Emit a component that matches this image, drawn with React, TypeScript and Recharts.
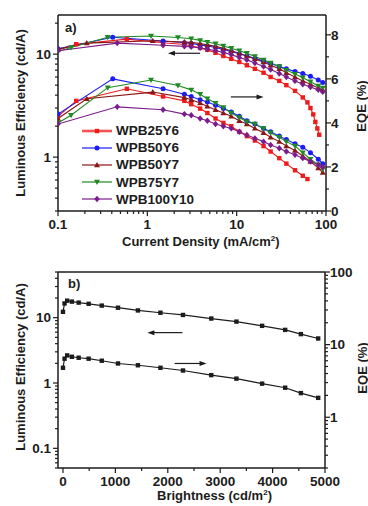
import React from 'react';
import { LineChart, Line, XAxis, YAxis, ReferenceLine } from 'recharts';

type Row = { j: number; le?: number; eqe?: number };

// panel a: current density (mA/cm2), luminous efficiency (cd/A), EQE (%)
const wpb25y6: Row[] = [
  { j: 0.1, le: 11.0, eqe: 4.3 }, { j: 0.16, le: 12.5, eqe: 5.0 }, { j: 0.59, le: 14.0, eqe: 5.55 },
  { j: 1.5, le: 12.9, eqe: 5.2 }, { j: 2.6, le: 12.4, eqe: 5.0 }, { j: 3.1, le: 12.0, eqe: 4.85 },
  { j: 3.9, le: 11.5, eqe: 4.65 }, { j: 4.7, le: 11.0, eqe: 4.45 }, { j: 5.8, le: 10.3, eqe: 4.2 },
  { j: 7.1, le: 9.6, eqe: 4.0 }, { j: 8.7, le: 9.0, eqe: 3.85 }, { j: 10.7, le: 8.4, eqe: 3.6 },
  { j: 13, le: 7.8, eqe: 3.4 }, { j: 16, le: 7.2, eqe: 3.2 }, { j: 20, le: 6.6, eqe: 2.95 },
  { j: 24, le: 6.0, eqe: 2.7 }, { j: 30, le: 5.5, eqe: 2.4 }, { j: 36, le: 5.0, eqe: 2.15 },
  { j: 45, le: 4.4, eqe: 1.85 }, { j: 55, le: 3.8, eqe: 1.6 }, { j: 62, le: 3.4, eqe: 1.45 },
  { j: 67, le: 3.0 }, { j: 72, le: 2.6 }, { j: 76, le: 2.2 }, { j: 80, le: 1.9 }, { j: 84, le: 1.65 },
];
const wpb50y6: Row[] = [
  { j: 0.1, le: 11.3, eqe: 4.4 }, { j: 0.41, le: 14.6, eqe: 6.0 }, { j: 1.5, le: 13.4, eqe: 5.55 },
  { j: 2.6, le: 12.9, eqe: 5.3 }, { j: 3.1, le: 12.7, eqe: 5.2 }, { j: 3.9, le: 12.3, eqe: 5.05 },
  { j: 4.7, le: 12.0, eqe: 4.95 }, { j: 5.8, le: 11.6, eqe: 4.8 }, { j: 7.1, le: 11.1, eqe: 4.65 },
  { j: 8.7, le: 10.6, eqe: 4.5 }, { j: 10.7, le: 10.1, eqe: 4.3 }, { j: 13, le: 9.6, eqe: 4.1 },
  { j: 16, le: 9.1, eqe: 3.95 }, { j: 20, le: 8.6, eqe: 3.75 }, { j: 24, le: 8.1, eqe: 3.6 },
  { j: 30, le: 7.6, eqe: 3.4 }, { j: 36, le: 7.2, eqe: 3.25 }, { j: 45, le: 6.8, eqe: 3.05 },
  { j: 55, le: 6.5, eqe: 2.9 }, { j: 67, le: 6.1, eqe: 2.65 }, { j: 82, le: 5.6, eqe: 2.35 },
  { j: 92, le: 5.3, eqe: 2.15 },
];
const wpb50y7: Row[] = [
  { j: 0.1, le: 11.2, eqe: 4.2 }, { j: 0.21, le: 12.8, eqe: 5.1 }, { j: 1.15, le: 13.5, eqe: 5.4 },
  { j: 2.6, le: 13.1, eqe: 5.15 }, { j: 3.1, le: 13.0, eqe: 5.05 }, { j: 3.9, le: 12.7, eqe: 4.9 },
  { j: 4.7, le: 12.3, eqe: 4.75 }, { j: 5.8, le: 11.9, eqe: 4.6 }, { j: 7.1, le: 11.4, eqe: 4.45 },
  { j: 8.7, le: 10.8, eqe: 4.3 }, { j: 10.7, le: 10.2, eqe: 4.1 }, { j: 13, le: 9.6, eqe: 3.95 },
  { j: 16, le: 9.0, eqe: 3.75 }, { j: 20, le: 8.4, eqe: 3.55 }, { j: 24, le: 7.8, eqe: 3.35 },
  { j: 30, le: 7.2, eqe: 3.15 }, { j: 36, le: 6.6, eqe: 2.95 }, { j: 45, le: 6.0, eqe: 2.75 },
  { j: 55, le: 5.5, eqe: 2.5 }, { j: 67, le: 5.1, eqe: 2.25 }, { j: 82, le: 4.7, eqe: 1.95 },
  { j: 92, le: 4.5, eqe: 1.75 },
];
const wpb75y7: Row[] = [
  { j: 0.1, le: 10.6, eqe: 4.0 }, { j: 0.14, le: 11.6, eqe: 4.35 }, { j: 0.36, le: 14.6, eqe: 5.6 },
  { j: 1.1, le: 15.0, eqe: 5.95 }, { j: 2.2, le: 14.5, eqe: 5.7 }, { j: 3.1, le: 14.1, eqe: 5.5 },
  { j: 3.9, le: 13.6, eqe: 5.3 }, { j: 4.7, le: 13.1, eqe: 5.1 }, { j: 5.8, le: 12.6, eqe: 4.9 },
  { j: 7.1, le: 12.0, eqe: 4.7 }, { j: 8.7, le: 11.4, eqe: 4.45 }, { j: 10.7, le: 10.8, eqe: 4.25 },
  { j: 13, le: 10.2, eqe: 4.05 }, { j: 16, le: 9.5, eqe: 3.95 }, { j: 20, le: 8.8, eqe: 3.75 },
  { j: 24, le: 8.2, eqe: 3.55 }, { j: 30, le: 7.6, eqe: 3.35 }, { j: 36, le: 7.0, eqe: 3.15 },
  { j: 45, le: 6.4, eqe: 2.95 }, { j: 55, le: 5.9, eqe: 2.65 }, { j: 67, le: 5.4, eqe: 2.35 },
  { j: 82, le: 4.9, eqe: 2.1 }, { j: 92, le: 4.7, eqe: 1.9 },
];
const wpb100y10: Row[] = [
  { j: 0.1, le: 10.8, eqe: 3.95 }, { j: 0.46, le: 12.8, eqe: 4.73 }, { j: 1.5, le: 12.2, eqe: 4.6 },
  { j: 2.6, le: 11.9, eqe: 4.4 }, { j: 3.1, le: 11.8, eqe: 4.35 }, { j: 3.9, le: 11.5, eqe: 4.2 },
  { j: 4.7, le: 11.2, eqe: 4.1 }, { j: 5.8, le: 10.8, eqe: 3.95 }, { j: 7.1, le: 10.4, eqe: 3.85 },
  { j: 8.7, le: 9.9, eqe: 3.75 }, { j: 10.7, le: 9.3, eqe: 3.6 }, { j: 13, le: 8.8, eqe: 3.45 },
  { j: 16, le: 8.2, eqe: 3.3 }, { j: 20, le: 7.6, eqe: 3.15 }, { j: 24, le: 7.1, eqe: 3.0 },
  { j: 30, le: 6.5, eqe: 2.85 }, { j: 36, le: 6.0, eqe: 2.7 }, { j: 45, le: 5.5, eqe: 2.55 },
  { j: 55, le: 5.1, eqe: 2.4 }, { j: 67, le: 4.8, eqe: 2.25 }, { j: 82, le: 4.5, eqe: 2.1 },
  { j: 92, le: 4.3, eqe: 2.0 },
];

// panel b: brightness (cd/m2)
const brightness = [0, 30, 80, 170, 300, 490, 740, 1050, 1430, 1860, 2290, 2830, 3310, 3800, 4240, 4540, 4870];
const leB = [12.3, 16.5, 18.2, 17.6, 17.0, 16.3, 15.3, 14.2, 12.9, 11.9, 11.0, 9.7, 8.7, 7.5, 6.5, 5.6, 4.8];
const eqeB = [4.8, 6.4, 7.1, 6.8, 6.6, 6.4, 6.0, 5.5, 5.2, 4.8, 4.4, 3.8, 3.4, 2.9, 2.55, 2.15, 1.85];

// ticks
const jTicks = [0.1, 0.2, 0.3, 0.4, 0.5, 0.6, 0.7, 0.8, 0.9, 1, 2, 3, 4, 5, 6, 7, 8, 9, 10, 20, 30, 40, 50, 60, 70, 80, 90, 100];
const jMajor = [0.1, 1, 10, 100];
const leTicksA = [0.3, 0.4, 0.5, 0.6, 0.7, 0.8, 0.9, 1, 2, 3, 4, 5, 6, 7, 8, 9, 10, 20];
const leMajorA = [1, 10];
const eqeTicksA = [0, 1, 2, 3, 4, 5, 6, 7, 8];
const eqeMajorA = [0, 2, 4, 6, 8];
const bTicks = [0, 500, 1000, 1500, 2000, 2500, 3000, 3500, 4000, 4500, 5000];
const bMajor = [0, 1000, 2000, 3000, 4000, 5000];
const leTicksB = [0.05, 0.06, 0.07, 0.08, 0.09, 0.1, 0.2, 0.3, 0.4, 0.5, 0.6, 0.7, 0.8, 0.9, 1, 2, 3, 4, 5, 6, 7, 8, 9, 10, 20, 30, 40, 50];
const leMajorB = [0.1, 1, 10];
const eqeTicksB = [0.2, 0.3, 0.4, 0.5, 0.6, 0.7, 0.8, 0.9, 1, 2, 3, 4, 5, 6, 7, 8, 9, 10, 20, 30, 40, 50, 60, 70, 80, 90, 100];
const eqeMajorB = [1, 10, 100];

const series = [
  { name: 'WPB25Y6', data: wpb25y6, color: '#f01a1a', shape: 'square' },
  { name: 'WPB50Y6', data: wpb50y6, color: '#1c1cf5', shape: 'circle' },
  { name: 'WPB50Y7', data: wpb50y7, color: '#8a1616', shape: 'up' },
  { name: 'WPB75Y7', data: wpb75y7, color: '#1f8a24', shape: 'down' },
  { name: 'WPB100Y10', data: wpb100y10, color: '#7a1c8c', shape: 'diamond' },
];

const panelB = brightness.map((b, i) => ({ b, le: leB[i], eqe: eqeB[i] }));

const FONT = '"Liberation Sans", Arial, sans-serif';
const INK = '#1c1c1c';
const axisLine = { stroke: INK, strokeWidth: 1.5 };

function marker(shape: string, color: string, cx: number, cy: number, key?: any) {
  if (shape === 'square') return <rect key={key} x={cx - 2.2} y={cy - 2.2} width={4.4} height={4.4} fill={color} />;
  if (shape === 'circle') return <circle key={key} cx={cx} cy={cy} r={2.5} fill={color} />;
  if (shape === 'up') return <polygon key={key} points={`${cx},${cy - 3} ${cx - 3},${cy + 2.2} ${cx + 3},${cy + 2.2}`} fill={color} />;
  if (shape === 'down') return <polygon key={key} points={`${cx},${cy + 3} ${cx - 3},${cy - 2.2} ${cx + 3},${cy - 2.2}`} fill={color} />;
  return <polygon key={key} points={`${cx},${cy - 3.2} ${cx + 2.8},${cy} ${cx},${cy + 3.2} ${cx - 2.8},${cy}`} fill={color} />;
}

const makeDot = (shape: string, color: string) => (p: any) => {
  const { cx, cy, index } = p;
  if (cx == null || cy == null || Number.isNaN(cy) || p.value == null) return <g key={index} />;
  return marker(shape, color, cx, cy, index);
};

const makeTick = (side: 'left' | 'right' | 'bottom', majors: number[]) => (p: any) => {
  const { x, y, payload } = p;
  const v = payload.value;
  const major = majors.includes(v);
  const len = major ? 5 : 3;
  const label = major ? String(v) : '';
  const txt = { fontFamily: FONT, fontSize: 13.5, fontWeight: 700, fill: INK } as const;
  if (side === 'left') {
    return (
      <g>
        <line x1={x - len} y1={y} x2={x} y2={y} stroke={INK} strokeWidth={1.2} />
        {label && <text x={x - 7} y={y + 4.7} textAnchor="end" {...txt}>{label}</text>}
      </g>
    );
  }
  if (side === 'right') {
    return (
      <g>
        <line x1={x} y1={y} x2={x + len} y2={y} stroke={INK} strokeWidth={1.2} />
        {label && <text x={x + 5} y={y + 4.7} textAnchor="start" {...txt}>{label}</text>}
      </g>
    );
  }
  return (
    <g>
      <line x1={x} y1={y} x2={x} y2={y + len} stroke={INK} strokeWidth={1.2} />
      {label && <text x={x} y={y + 18} textAnchor="middle" {...txt}>{label}</text>}
    </g>
  );
};

const arrowShape = (p: any) => {
  const { x1, y1, x2, y2 } = p;
  const dir = x2 > x1 ? 1 : -1;
  return (
    <g>
      <line x1={x1} y1={y1} x2={x2 - dir * 5} y2={y2} stroke={INK} strokeWidth={1.2} />
      <polygon points={`${x2},${y2} ${x2 - dir * 7},${y2 - 2.5} ${x2 - dir * 7},${y2 + 2.5}`} fill={INK} />
    </g>
  );
};

const arrowsA = [
  { axis: 'le', from: [3.9, 10.2], to: [1.7, 10.2] },
  { axis: 'eqe', from: [8.6, 5.18], to: [20, 5.18] },
];
const arrowsB = [
  { axis: 'le', from: [2280, 5.9], to: [1610, 5.9] },
  { axis: 'le', from: [2130, 1.99], to: [2740, 1.99] },
];

const titleStyle: React.CSSProperties = {
  position: 'absolute', fontFamily: FONT, fontWeight: 700, fontSize: 13, color: INK, whiteSpace: 'nowrap', lineHeight: '15px',
};
const vTitle = (left: number, top: number): React.CSSProperties => ({
  ...titleStyle, left, top, transform: 'translate(-50%, -50%) rotate(-90deg)',
});
const sq: React.CSSProperties = { fontSize: 8, position: 'relative', top: -5, lineHeight: 0 };

export default function App() {
  return (
    <div style={{ position: 'absolute', left: 0, top: 0, width: 368, height: 506, background: '#fff', overflow: 'hidden' }}>
      {/* panel a */}
      <div style={{ position: 'absolute', left: 0, top: 0 }}>
        <LineChart width={368} height={250} margin={{ top: 15, right: 0, bottom: 0, left: 0 }}>
          <XAxis dataKey="j" type="number" scale="log" domain={[0.1, 100]} allowDataOverflow ticks={jTicks} interval={0}
            tick={makeTick('bottom', jMajor)} tickLine={false} tickSize={0} tickMargin={0} axisLine={axisLine} height={39} />
          <YAxis yAxisId="le" type="number" scale="log" domain={[0.3, 24]} allowDataOverflow ticks={leTicksA} interval={0}
            tick={makeTick('left', leMajorA)} tickLine={false} tickSize={0} tickMargin={0} axisLine={axisLine} width={58} />
          <YAxis yAxisId="eqe" orientation="right" type="number" domain={[0, 8.9]} allowDataOverflow ticks={eqeTicksA} interval={0}
            tick={makeTick('right', eqeMajorA)} tickLine={false} tickSize={0} tickMargin={0} axisLine={axisLine} width={42} />
          <ReferenceLine yAxisId="eqe" y={8.9} stroke={INK} strokeWidth={1.5} ifOverflow="visible" />
          {series.map((s) => (
            <Line key={s.name + 'le'} yAxisId="le" data={s.data} dataKey="le" stroke={s.color} strokeWidth={1.1}
              dot={makeDot(s.shape, s.color)} activeDot={false} isAnimationActive={false} />
          ))}
          {series.map((s) => (
            <Line key={s.name + 'eqe'} yAxisId="eqe" data={s.data} dataKey="eqe" stroke={s.color} strokeWidth={1.1}
              dot={makeDot(s.shape, s.color)} activeDot={false} isAnimationActive={false} />
          ))}
          {arrowsA.map((a, i) => (
            <ReferenceLine key={i} yAxisId={a.axis} segment={[{ x: a.from[0], y: a.from[1] }, { x: a.to[0], y: a.to[1] }]} shape={arrowShape} />
          ))}
        </LineChart>
      </div>

      {/* panel b */}
      <div style={{ position: 'absolute', left: 0, top: 250 }}>
        <LineChart width={368} height={256} margin={{ top: 22, right: 0, bottom: 0, left: 0 }}>
          <XAxis dataKey="b" type="number" domain={[-95, 5000]} allowDataOverflow ticks={bTicks} interval={0}
            tick={makeTick('bottom', bMajor)} tickLine={false} tickSize={0} tickMargin={0} axisLine={axisLine} height={38} />
          <XAxis xAxisId="top" orientation="top" type="number" domain={[0, 1]} tick={false} tickLine={false} axisLine={axisLine} height={0} />
          <YAxis yAxisId="le" type="number" scale="log" domain={[0.05, 50]} allowDataOverflow ticks={leTicksB} interval={0}
            tick={makeTick('left', leMajorB)} tickLine={false} tickSize={0} tickMargin={0} axisLine={axisLine} width={58} />
          <YAxis yAxisId="eqe" orientation="right" type="number" scale="log" domain={[0.2, 100]} allowDataOverflow ticks={eqeTicksB} interval={0}
            tick={makeTick('right', eqeMajorB)} tickLine={false} tickSize={0} tickMargin={0} axisLine={axisLine} width={43} />
          <ReferenceLine yAxisId="eqe" segment={[{ x: -95, y: 100 }, { x: 5000, y: 100 }]} stroke={INK} strokeWidth={1.5} ifOverflow="visible" />
          <Line yAxisId="le" data={panelB} dataKey="le" stroke={INK} strokeWidth={1.2} dot={makeDot('square', INK)} activeDot={false} isAnimationActive={false} />
          <Line yAxisId="eqe" data={panelB} dataKey="eqe" stroke={INK} strokeWidth={1.2} dot={makeDot('square', INK)} activeDot={false} isAnimationActive={false} />
          {arrowsB.map((a, i) => (
            <ReferenceLine key={i} yAxisId={a.axis} segment={[{ x: a.from[0], y: a.from[1] }, { x: a.to[0], y: a.to[1] }]} shape={arrowShape} />
          ))}
        </LineChart>
      </div>

      {/* legend panel a */}
      <div style={{ position: 'absolute', left: 80, top: 122 }}>
        {series.map((s) => (
          <div key={s.name} style={{ display: 'flex', alignItems: 'center', height: 17.2 }}>
            <svg width={34} height={10} style={{ display: 'block' }}>
              <line x1={2} y1={5} x2={32} y2={5} stroke={s.color} strokeWidth={s.shape === 'square' ? 2.6 : 1.2} strokeOpacity={s.shape === 'square' ? 0.75 : 1} />
              {marker(s.shape, s.color, 17, 5)}
            </svg>
            <span style={{ fontFamily: FONT, fontWeight: 700, fontSize: 13.5, color: INK, marginLeft: 2 }}>{s.name}</span>
          </div>
        ))}
      </div>

      <div style={{ ...titleStyle, left: 65, top: 20 }}>a)</div>
      <div style={{ ...titleStyle, left: 68, top: 276 }}>b)</div>

      <div style={vTitle(20, 113)}>Luminous Efficiency (cd/A)</div>
      <div style={vTitle(361, 106)}>EQE (%)</div>
      <div style={{ ...titleStyle, left: 122, top: 234 }}>Current Density (mA/cm<span style={sq}>2</span>)</div>

      <div style={vTitle(20, 367)}>Luminous Efficiency (cd/A)</div>
      <div style={vTitle(362, 368)}>EQE (%)</div>
      <div style={{ ...titleStyle, left: 157, top: 488 }}>Brightness (cd/m<span style={sq}>2</span>)</div>
    </div>
  );
}
